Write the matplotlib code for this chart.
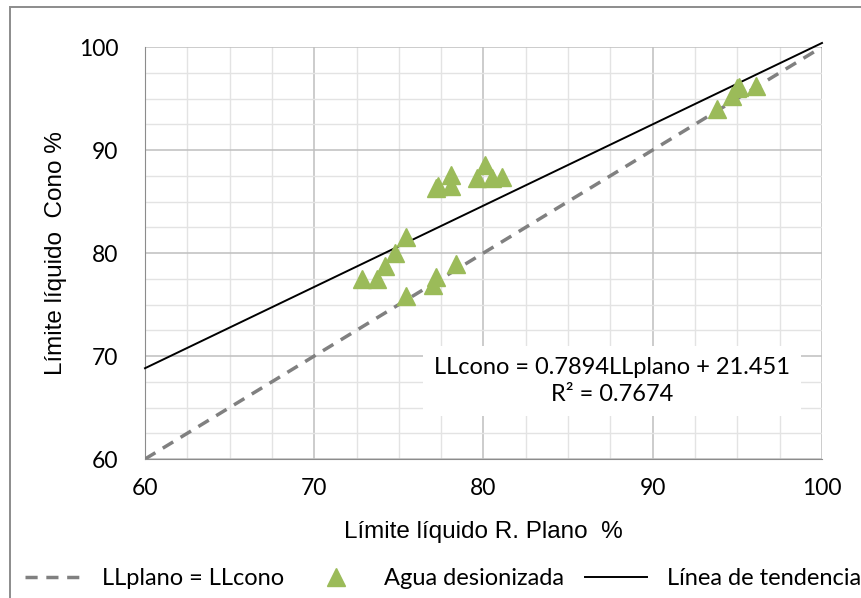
import matplotlib
matplotlib.use('Agg')
import matplotlib.pyplot as plt
from matplotlib.ticker import MultipleLocator
from matplotlib.patches import Rectangle
import numpy as np

plt.rcParams['font.family'] = ['Lato', 'DejaVu Sans']
ARIAL = ['Liberation Sans', 'DejaVu Sans']

# ── Data ─────────────────────────────────────────────────────────────────────
ll_plano = [72.8, 73.7, 74.2, 74.8, 75.4, 75.4, 77.0, 77.2, 78.4,
            77.3, 77.2, 78.1, 78.1, 80.1, 79.6, 80.5, 81.1,
            93.8, 94.7, 95.0, 95.1, 96.1]
ll_cono  = [77.5, 77.5, 78.7, 80.0, 81.6, 75.8, 76.9, 77.7, 78.9,
            86.5, 86.3, 87.6, 86.5, 88.5, 87.3, 87.3, 87.4,
            94.0, 95.2, 96.0, 96.1, 96.2]
slope, intercept = 0.7894, 21.451
eq_text = 'LLcono = 0.7894LLplano + 21.451\nR² = 0.7674'

GREEN = '#9bbb59'
GREY = '#808080'

fig = plt.figure(figsize=(8.61, 5.98), dpi=100)
ax = fig.add_axes([0.1684, 0.2324, 0.7863, 0.689])

xs = np.array([60, 100])
l1, = ax.plot(xs, xs, ls=(0, (3.5, 2.5)), color=GREY, lw=2.5, label='LLplano = LLcono', zorder=3)
l2, = ax.plot(ll_plano, ll_cono, ls='none', marker='^', ms=13, color=GREEN,
              label='Agua desionizada', zorder=4)
l3, = ax.plot(xs, slope * xs + intercept, color='black', lw=1.4,
              label='Línea de tendencia', zorder=3, clip_on=False)

ax.set_xlim(60, 100)
ax.set_ylim(60, 100)
ax.xaxis.set_major_locator(MultipleLocator(10))
ax.yaxis.set_major_locator(MultipleLocator(10))
ax.xaxis.set_minor_locator(MultipleLocator(2.5))
ax.yaxis.set_minor_locator(MultipleLocator(2.5))
ax.grid(which='major', color='#bfbfbf', lw=1.1, zorder=0)
ax.grid(which='minor', color='#e3e3e3', lw=1.0, zorder=0)
ax.set_axisbelow(True)
for s in ['top', 'right']:
    ax.spines[s].set_visible(False)
for s in ['left', 'bottom']:
    ax.spines[s].set_color('#8c8c8c')
ax.tick_params(which='both', length=0, labelsize=16.5)
ax.tick_params(axis='y', pad=19)
ax.tick_params(axis='x', pad=14)

ax.set_xlabel('Límite líquido R. Plano  %', fontsize=17.5, family=ARIAL)
ax.set_ylabel('Límite líquido  Cono %', fontsize=17.5, family=ARIAL)
ax.xaxis.set_label_coords(0.5, -0.178)
ax.yaxis.set_label_coords(-0.131, 0.5)
ax.xaxis.label.set_va('center')
ax.yaxis.label.set_va('center')

ax.text(87.6, 67.6, eq_text, ha='center', va='center', fontsize=17,
        linespacing=1.35, zorder=5,
        bbox=dict(facecolor='white', edgecolor='none', pad=8))

# three single-entry legends placed along the bottom
for h, x0, hl in [(l1, 0.029, 2.4), (l2, 0.357, 2.4), (l3, 0.679, 2.65)]:
    fig.legend(handles=[h], loc='center left', bbox_to_anchor=(x0, 0.033),
               frameon=False, fontsize=17, handlelength=hl, handletextpad=0.85,
               borderpad=0, borderaxespad=0)

fig.patches.append(Rectangle((0.0116, -0.1), 1.1, 1.088, transform=fig.transFigure,
                             fill=False, edgecolor='#8c8c8c', lw=1.4))

fig.savefig('out.png', dpi=100)
